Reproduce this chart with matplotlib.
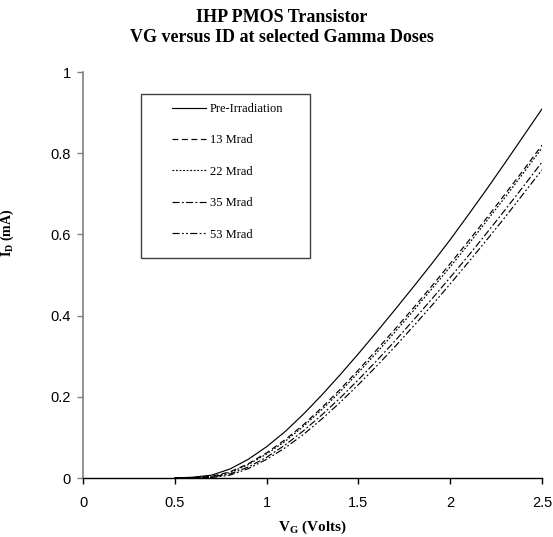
import matplotlib
matplotlib.use("Agg")
import matplotlib.pyplot as plt
from matplotlib.patches import Rectangle

plt.rcParams['mathtext.fontset'] = 'custom'
plt.rcParams['mathtext.rm'] = 'Liberation Serif'
plt.rcParams['mathtext.bf'] = 'Liberation Serif:bold'
plt.rcParams['mathtext.it'] = 'Liberation Serif:italic'

vg = [0.5, 0.6, 0.7, 0.8, 0.9, 1.0, 1.1, 1.2, 1.3, 1.4, 1.5,
      1.6, 1.7, 1.8, 1.9, 2.0, 2.1, 2.2, 2.3, 2.4, 2.5]

id_pre = [0.0, 0.002, 0.007, 0.022, 0.046, 0.077, 0.114, 0.157, 0.204, 0.254, 0.306,
          0.360, 0.415, 0.471, 0.528, 0.587, 0.649, 0.712, 0.777, 0.843, 0.909]
id_13 = [0.0, 0.001, 0.004, 0.015, 0.035, 0.062, 0.094, 0.131, 0.173, 0.218, 0.266,
         0.316, 0.367, 0.419, 0.473, 0.528, 0.584, 0.641, 0.700, 0.759, 0.820]
id_22 = [0.0, 0.001, 0.003, 0.013, 0.033, 0.059, 0.090, 0.127, 0.168, 0.212, 0.260,
         0.309, 0.360, 0.412, 0.466, 0.520, 0.576, 0.634, 0.692, 0.752, 0.813]
id_35 = [0.0, 0.0005, 0.002, 0.010, 0.027, 0.051, 0.081, 0.116, 0.155, 0.197, 0.242,
         0.289, 0.338, 0.389, 0.441, 0.494, 0.548, 0.604, 0.661, 0.719, 0.778]
id_53 = [0.0, 0.0003, 0.001, 0.007, 0.023, 0.046, 0.074, 0.107, 0.145, 0.186, 0.230,
         0.276, 0.324, 0.374, 0.425, 0.478, 0.532, 0.587, 0.643, 0.701, 0.759]

labels = ['Pre-Irradiation', '13 Mrad', '22 Mrad', '35 Mrad', '53 Mrad']
series = [id_pre, id_13, id_22, id_35, id_53]
styles = ['-', (0, (5, 3)), (0, (1.5, 1.5)), (0, (6, 2, 1.5, 2)), (0, (6, 2, 1.5, 2, 1.5, 2))]

xticks = [0, 0.5, 1, 1.5, 2, 2.5]
xticklabels = ['0', '0.5', '1', '1.5', '2', '2.5']
yticks = [0, 0.2, 0.4, 0.6, 0.8, 1]
yticklabels = ['0', '0.2', '0.4', '0.6', '0.8', '1']

W, H = 553, 537
fig = plt.figure(figsize=(W / 100, H / 100), dpi=100)
ax = fig.add_axes([83 / W, 1 - 478 / H, (542 - 83) / W, (478 - 72) / H])

handles = []
for y, ls, lab in zip(series, styles, labels):
    h, = ax.plot(vg, y, color='black', linestyle=ls, linewidth=0.85, label=lab)
    handles.append(h)

ax.set_xlim(0, 2.5)
ax.set_ylim(0, 1)
ax.set_xticks(xticks)
ax.set_xticklabels(xticklabels)
ax.set_yticks(yticks)
ax.set_yticklabels(yticklabels)
for s in ['top', 'right']:
    ax.spines[s].set_visible(False)
ax.spines['left'].set_color('#808080')
ax.spines['left'].set_linewidth(1.2)
ax.spines['bottom'].set_color('black')
ax.spines['bottom'].set_linewidth(1.0)
ax.tick_params(axis='y', direction='out', length=4, width=1.0, color='#808080',
               labelsize=10.5, pad=5)
ax.tick_params(axis='x', direction='out', length=4, width=1.0, color='black',
               labelsize=10.5, pad=9)
for t in ax.get_xticklabels() + ax.get_yticklabels():
    t.set_fontfamily('Liberation Sans')

ax.set_xlabel(r'$\mathbf{V_G}$ (Volts)', fontfamily='Liberation Serif',
              fontweight='bold', fontsize=11, labelpad=6)
ax.set_ylabel(r'$\mathbf{I_D}$ (mA)', fontfamily='Liberation Serif',
              fontweight='bold', fontsize=10)
ax.yaxis.set_label_coords((16 - 83) / (542 - 83), (478 - 233) / (478 - 72))

fig.text(282 / W, 1 - 18 / H, 'IHP PMOS Transistor', ha='center', va='center',
         fontfamily='Liberation Serif', fontweight='bold', fontsize=13)
fig.text(282 / W, 1 - 38 / H, 'VG versus ID at selected Gamma Doses', ha='center',
         va='center', fontfamily='Liberation Serif', fontweight='bold', fontsize=13)

# legend frame
fig.patches.append(Rectangle((141 / W, 1 - 258 / H), (310 - 141) / W, (258 - 94) / H,
                             transform=fig.transFigure, facecolor='white',
                             edgecolor='#404040', linewidth=1.0, zorder=3))
leg = fig.legend(handles=handles, loc='upper left',
                 bbox_to_anchor=(172 / W, 1 - 103 / H), bbox_transform=fig.transFigure,
                 frameon=False, borderaxespad=0, borderpad=0,
                 handlelength=2.7, handletextpad=0.3, labelspacing=1.55,
                 prop={'family': 'Liberation Serif', 'size': 9})
leg.set_zorder(4)

fig.savefig('out.png', dpi=100)
